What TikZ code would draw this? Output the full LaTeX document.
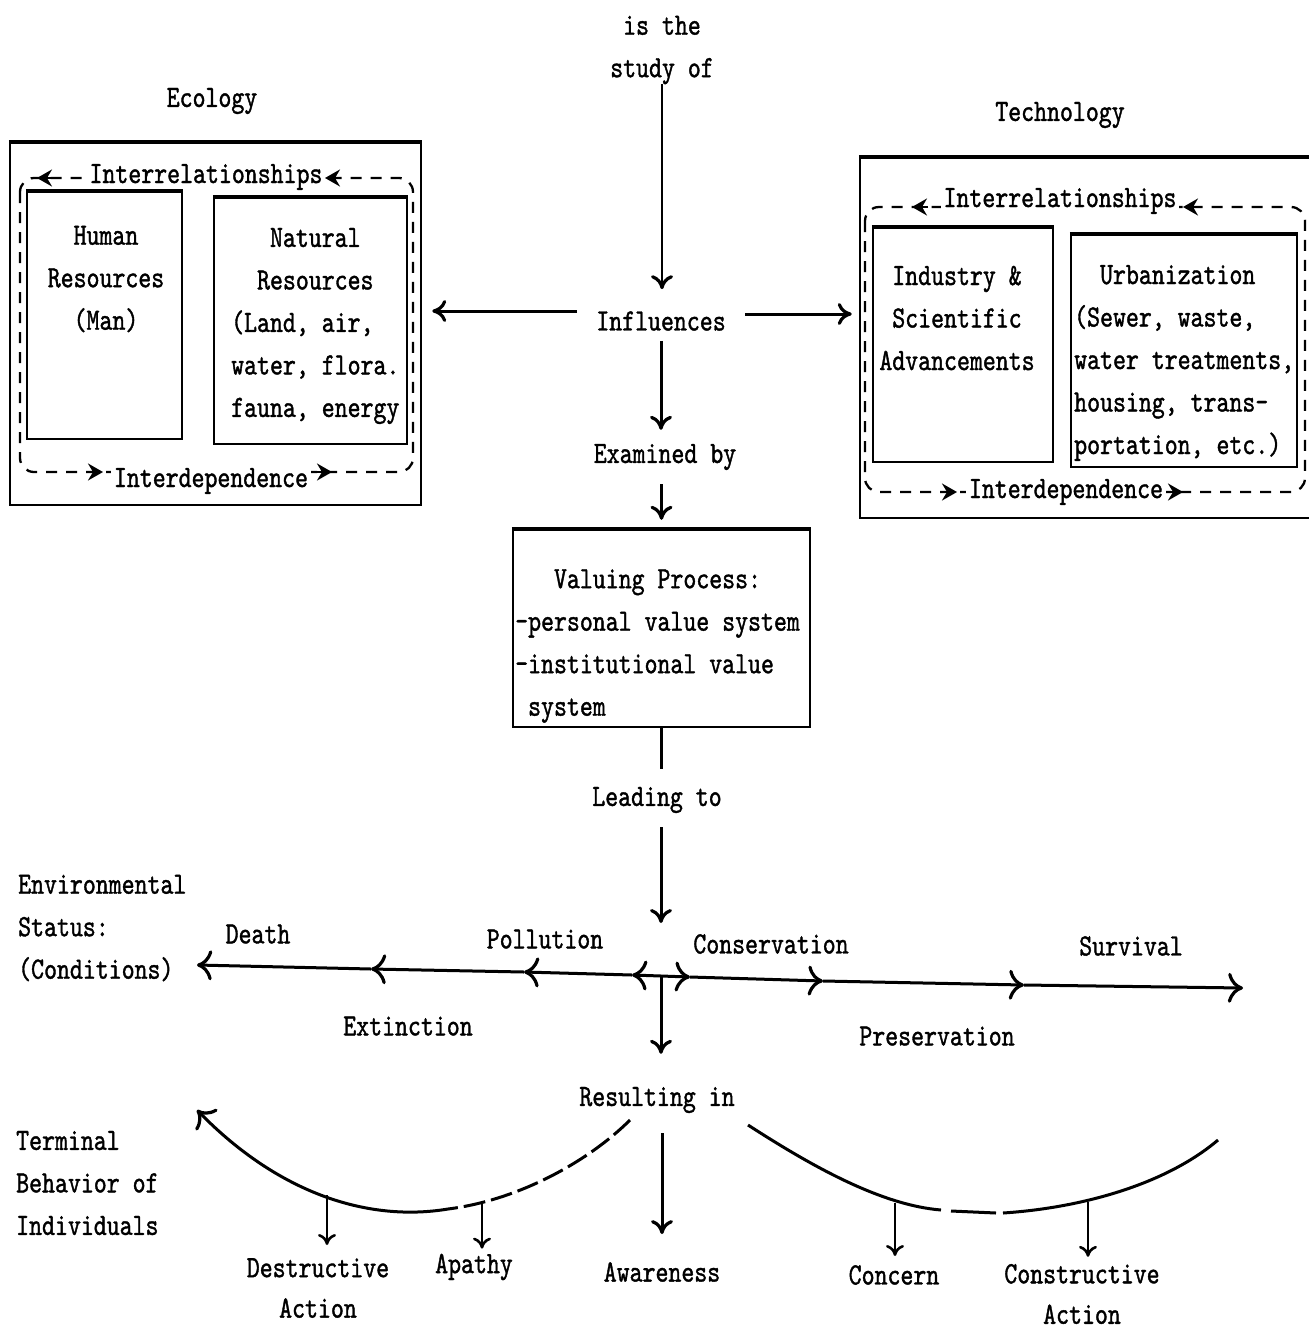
\documentclass[tikz,border=0pt]{standalone}
\usepackage{fontspec}
\setmainfont{lmmono10-regular.otf}[FakeStretch=0.795,FakeBold=1.2]
\usetikzlibrary{arrows.meta}
\tikzset{
  vtip/.tip={Computer Modern Rightarrow[length=14pt,width=22pt,line width=3.2pt]},
  axtip/.tip={Computer Modern Rightarrow[length=15pt,width=30pt,line width=3.2pt]},
  smalltip/.tip={Computer Modern Rightarrow[length=11pt,width=18pt,line width=2.6pt]},
  looptip/.tip={Stealth[length=15pt,width=17pt,inset=5pt]},
  lbl/.style={font=\fontsize{31}{42.5}\selectfont, inner sep=0pt},
  ctext/.style={lbl, align=center},
  ltext/.style={lbl, align=left, anchor=west},
  frame/.style={draw, line width=2.5pt, inner sep=0pt},
  flow/.style={line width=3pt},
  fine/.style={line width=2pt},
  loopline/.style={line width=2.3pt, dash pattern=on 11pt off 9pt},
  looparrow/.style={line width=2.3pt, -looptip},
  gaplabel/.style={lbl, fill=white, inner xsep=3pt, inner ysep=2pt},
  arcline/.style={line width=3pt},
}
\begin{document}
\begin{tikzpicture}[x=1pt,y=-1pt]
\useasboundingbox (0,0) rectangle (1309,1331);

% ---------- Ecology block ----------
\node[ctext] (ecotitle) at (212,101) {Ecology};
\node[frame, minimum width=411pt, minimum height=362pt] (eco) at (215.5,324) {};
\node[frame, minimum width=155pt, minimum height=247pt] (human) at (104.5,315.5) {};
\node[frame, minimum width=193pt, minimum height=246pt] (natural) at (310.5,321) {};
\node[ctext] (humantxt) at (106,279) {Human\\Resources\\(Man)};
\node[ltext] (naturaltxt) at (231,326) {\phantom{xxx}Natural\\\phantom{xx}Resources\\(Land, air,\\water, flora.\\fauna, energy};

\draw[loopline, rounded corners=14pt] (20,178) rectangle (413,472);
\node[gaplabel] (ecorel) at (206,177) {Interrelationships};
\node[gaplabel] (ecodep) at (211,481) {Interdependence};
\draw[looparrow] (53,178) -- (37,178);
\draw[looparrow] (341,178) -- (325,178);
\draw[looparrow] (87,472) -- (103,472);
\draw[looparrow] (316,472) -- (332,472);

% ---------- Technology block ----------
\node[ctext] (techtitle) at (1060,115) {Technology};
\node[frame, minimum width=460pt, minimum height=360pt] (tech) at (1090,338) {};
\node[frame, minimum width=180pt, minimum height=234pt] (industry) at (963,345) {};
\node[frame, minimum width=226pt, minimum height=232pt] (urban) at (1184,351) {};
\node[ctext] (industrytxt) at (957,318) {Industry \&\\Scientific\\Advancements};
\node[ltext] (urbantxt) at (1074,363) {\phantom{xx}Urbanization\\(Sewer, waste,\\water treatments,\\housing, trans-\\portation, etc.)};

\draw[loopline, rounded corners=14pt] (865,207) rectangle (1305,492);
\node[gaplabel] (techrel) at (1060,201) {Interrelationships};
\node[gaplabel] (techdep) at (1066,492) {Interdependence};
\draw[looparrow] (928,207) -- (912,207);
\draw[looparrow] (1199,207) -- (1183,207);
\draw[looparrow] (941,492) -- (957,492);
\draw[looparrow] (1167,492) -- (1183,492);

% heavier top edges of the frames
\foreach \b in {eco,human,natural,tech,industry,urban}
  \draw[line width=4.5pt] (\b.north west) -- (\b.north east);

% ---------- centre column ----------
\node[ctext] (study) at (662,50) {is the\\study of};
\node[ctext] (influ) at (661,321) {Influences};
\node[ctext] (exam) at (665,457) {Examined by};
\node[frame, minimum width=297pt, minimum height=197pt] (val) at (661.5,628.5) {};
\draw[line width=4.5pt] (val.north west) -- (val.north east);
\node[ltext] (valtxt) at (515,646) {\phantom{xxx}Valuing Process:\\-personal value system\\-institutional value\\\phantom{x}system};
\node[ctext] (lead) at (657,800) {Leading to};
\coordinate (hub) at (661,976);
\node[ctext] (result) at (657,1100) {Resulting in};
\node[ctext] (aware) at (662,1272) {Awareness};

\draw[fine,-vtip, shorten >=22pt] (study.south) -- (study.south |- influ.north);
\draw[flow,-vtip, shorten <=10pt, shorten >=14pt] (influ.south) -- (influ.south |- exam.north);
\draw[flow,-vtip, shorten <=14pt, shorten >=9pt] (val.north |- exam.south) -- (val.north);
\draw[flow, shorten >=18pt] (val.south) -- (val.south |- lead.north);
\draw[flow,-vtip, shorten <=14pt, shorten >=53pt] (lead.south -| hub) -- (hub);
\draw[flow,-vtip, shorten >=33pt] (hub) -- (hub |- result.north);
\draw[flow,-vtip, shorten <=20pt, shorten >=28pt] (result.south -| aware.north) -- (aware.north);

\coordinate (inL) at (577,311);
\coordinate (inR) at (745,314);
\draw[flow,-vtip, shorten >=10pt] (inL) -- (inL -| eco.east);
\draw[flow,-vtip, shorten >=7pt] (inR) -- (inR -| tech.west);

% ---------- environmental status axis ----------
\node[ltext] (envstat) at (18,928) {Environmental\\Status:\\(Conditions)};
\coordinate (l1) at (632,975);
\coordinate (l2) at (524,972);
\coordinate (l3) at (371,969);
\coordinate (l4) at (197,965);
\coordinate (r1) at (690,977);
\coordinate (r2) at (823,981);
\coordinate (r3) at (1024,985);
\coordinate (r4) at (1243,988);
\draw[flow,-axtip] (hub) -- (l1);
\draw[flow,-axtip] (l1) -- (l2);
\draw[flow,-axtip] (l2) -- (l3);
\draw[flow,-axtip] (l3) -- (l4);
\draw[flow,-axtip] (hub) -- (r1);
\draw[flow,-axtip] (r1) -- (r2);
\draw[flow,-axtip] (r2) -- (r3);
\draw[flow,-axtip] (r3) -- (r4);

\node[ctext] (death) at (258,934) {Death};
\node[ctext] (pollution) at (545,939) {Pollution};
\node[ctext] (conservation) at (771,944) {Conservation};
\node[ctext] (survival) at (1131,946) {Survival};
\node[ctext] (extinction) at (408,1026) {Extinction};
\node[ctext] (preservation) at (937,1036) {Preservation};

% ---------- terminal behaviour ----------
\node[ltext] (termbeh) at (16,1183) {Terminal\\Behavior of\\Individuals};

\coordinate (la) at (630,1120);
\coordinate (lm) at (448,1209);
\coordinate (le) at (197,1110);
\draw[arcline, dash pattern=on 22pt off 6pt] (la) .. controls (590,1160) and (520,1200) .. (lm);
\draw[arcline,-axtip] (lm) .. controls (370,1222) and (280,1195) .. (le);

\coordinate (ra) at (748,1125);
\coordinate (rg1) at (941,1210);
\coordinate (rg2) at (951,1211);
\coordinate (rg3) at (996,1213);
\coordinate (rg4) at (1003,1213);
\coordinate (re) at (1218,1140);
\draw[arcline] (ra) .. controls (810,1165) and (880,1205) .. (rg1);
\draw[arcline] (rg2) -- (rg3);
\draw[arcline] (rg4) .. controls (1080,1208) and (1165,1185) .. (re);

\node[ctext, font=\fontsize{31}{40.5}\selectfont] (destr) at (318,1288) {Destructive\\Action};
\node[ctext] (apathy) at (474,1267) {Apathy};
\node[ctext] (concern) at (894,1275) {Concern};
\node[ctext, font=\fontsize{31}{40.5}\selectfont] (constr) at (1082,1294) {Constructive\\Action};

\coordinate (dd) at (327,1195);
\coordinate (da) at (482,1204);
\coordinate (dc) at (895,1203);
\coordinate (dk) at (1088,1202);
\draw[fine,-smalltip, shorten >=13pt] (dd) -- (dd |- destr.north);
\draw[fine,-smalltip, shorten >=5pt] (da) -- (da |- apathy.north);
\draw[fine,-smalltip, shorten >=9pt] (dc) -- (dc |- concern.north);
\draw[fine,-smalltip, shorten >=7pt] (dk) -- (dk |- constr.north);

\end{tikzpicture}
\end{document}
